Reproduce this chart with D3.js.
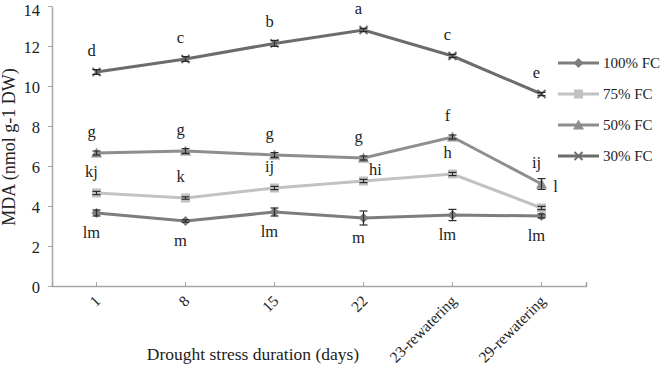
<!DOCTYPE html>
<html>
<head>
<meta charset="utf-8">
<script src="https://cdn.jsdelivr.net/npm/d3@7"></script>
<style>
  body { margin: 0; background: #fff; }
  text { font-family: "Liberation Serif", "Times New Roman", serif; fill: #222; }
</style>
</head>
<body>
<svg id="chart"></svg>
<script>
/* données */
const days = ['1', '8', '15', '22', '23-rewatering', '29-rewatering']
const seriesNames = ['100% FC', '75% FC', '50% FC', '30% FC']

const fc100 = [3.65, 3.25, 3.7, 3.4, 3.55, 3.5]
const fc75  = [4.65, 4.4, 4.9, 5.25, 5.6, 3.9]
const fc50  = [6.65, 6.75, 6.55, 6.4, 7.45, 5.1]
const fc30  = [10.7, 11.35, 12.13, 12.8, 11.5, 9.6]

const err100 = [0.15, 0.06, 0.2, 0.35, 0.28, 0.1]
const err75  = [0.08, 0.06, 0.08, 0.08, 0.08, 0.08]
const err50  = [0.1, 0.12, 0.12, 0.1, 0.1, 0.27]
const err30  = [0.12, 0.12, 0.15, 0.08, 0.08, 0.08]

const letters100 = ['lm', 'm', 'lm', 'm', 'lm', 'lm']
const letters75  = ['kj', 'k', 'ij', 'hi', 'h', 'l']
const letters50  = ['g', 'g', 'g', 'g', 'f', 'ij']
const letters30  = ['d', 'c', 'b', 'a', 'c', 'e']

const yTicks = [0, 2, 4, 6, 8, 10, 12, 14]

const width = 666, height = 372
const margin = {top: 6, right: 80, bottom: 86, left: 52}

const series = [
  {name: seriesNames[0], values: fc100, err: err100, letters: letters100, color: '#7d7d7d', marker: 'diamond', below: true},
  {name: seriesNames[1], values: fc75,  err: err75,  letters: letters75,  color: '#c2c2c2', marker: 'square'},
  {name: seriesNames[2], values: fc50,  err: err50,  letters: letters50,  color: '#8e8e8e', marker: 'triangle'},
  {name: seriesNames[3], values: fc30,  err: err30,  letters: letters30,  color: '#6c6c6c', marker: 'cross'}
]

const svg = d3.select('#chart').attr('width', width).attr('height', height)

const xScale = d3.scaleBand().domain(days).range([margin.left, 586])
const yScale = d3.scaleLinear().domain([0, 14]).range([286, 6])
const xc = d => xScale(d) + xScale.bandwidth() / 2

/* axes */
const yAxis = d3.axisLeft(yScale).tickValues(yTicks).tickSizeInner(4).tickSizeOuter(0).tickPadding(8)
const gy = svg.append('g').attr('transform', 'translate(' + margin.left + ',0)').call(yAxis)
gy.select('.domain').attr('stroke', '#a6a6a6').attr('stroke-width', 1.5)
gy.selectAll('.tick line').attr('stroke', '#a6a6a6')
gy.selectAll('.tick text').style('font-size', '16.5px').attr('fill', '#222')
  .attr('dy', d => d === 14 ? '0.55em' : '0.4em')   // le "14" touche le bord haut

const xAxis = d3.axisBottom(xScale).tickSizeInner(-4).tickSizeOuter(-4).tickFormat('')
const gx = svg.append('g').attr('transform', 'translate(0,286)').call(xAxis)
gx.select('.domain').attr('stroke', '#a6a6a6').attr('stroke-width', 1.5)
gx.selectAll('.tick line').attr('stroke', '#a6a6a6')

svg.append('g').selectAll('text')
  .data(days).enter().append('text')
  .attr('transform', d => 'translate(' + (xc(d) + 5) + ',302) rotate(-45)')
  .attr('text-anchor', 'end')
  .style('font-size', '15.5px')
  .text(d => d)

/* titres des axes */
svg.append('text')
  .attr('transform', 'rotate(-90)')
  .attr('x', -147).attr('y', 15)
  .attr('text-anchor', 'middle')
  .style('font-size', '18px')
  .text('MDA (nmol g-1 DW)')

svg.append('text')
  .attr('x', 253).attr('y', 360)
  .attr('text-anchor', 'middle')
  .style('font-size', '17.5px')
  .text('Drought stress duration (days)')

/* marqueurs */
const drawMarker = (g, type, color) => {
  if (type === 'diamond') {
    g.append('path').attr('d', 'M0,-5L5,0L0,5L-5,0Z').attr('fill', color)
  } else if (type === 'square') {
    g.append('rect').attr('x', -4.5).attr('y', -4.5).attr('width', 9).attr('height', 9).attr('fill', color)
  } else if (type === 'triangle') {
    g.append('path').attr('d', 'M0,-5.5L5.5,4.5L-5.5,4.5Z').attr('fill', color)
  } else {
    g.append('path').attr('d', 'M-4,-4L4,4M-4,4L4,-4').attr('stroke', color).attr('stroke-width', 1.8)
  }
}

const line = d3.line().x((v, i) => xc(days[i])).y(v => yScale(v))

series.forEach(s => {
  const g = svg.append('g')
  g.append('path').datum(s.values)
    .attr('d', line).attr('fill', 'none')
    .attr('stroke', s.color).attr('stroke-width', 3)

  s.values.forEach((v, i) => {
    const x = xc(days[i])
    const m = g.append('g').attr('transform', 'translate(' + x + ',' + yScale(v) + ')')
    drawMarker(m, s.marker, s.color)

    // barres d'erreur
    const y1 = yScale(v + s.err[i]), y2 = yScale(v - s.err[i])
    const eb = g.append('g').attr('stroke', '#2b2b2b').attr('stroke-width', 1.2)
    eb.append('line').attr('x1', x).attr('x2', x).attr('y1', y1).attr('y2', y2)
    eb.append('line').attr('x1', x - 4).attr('x2', x + 4).attr('y1', y1).attr('y2', y1)
    eb.append('line').attr('x1', x - 4).attr('x2', x + 4).attr('y1', y2).attr('y2', y2)
  })
})

/* lettres de significativité */
series.forEach(s => {
  s.letters.forEach((l, i) => {
    let x = xc(days[i]) - 5
    let y = yScale(s.values[i]) + (s.below ? 25 : -16)
    if (s.name === '75% FC' && l === 'hi') { x += 17; y += 10 }
    if (s.name === '75% FC' && l === 'l') { x += 19 }
    svg.append('text')
      .attr('x', x).attr('y', y)
      .attr('text-anchor', 'middle')
      .style('font-size', '16.5px')
      .text(l)
  })
})

/* légende */
const legend = svg.append('g')
series.forEach((s, i) => {
  const y = 63 + i * 31
  const lg = legend.append('g')
  lg.append('line').attr('x1', 558).attr('x2', 599).attr('y1', y).attr('y2', y)
    .attr('stroke', s.color).attr('stroke-width', 3)
  drawMarker(lg.append('g').attr('transform', 'translate(578.5,' + y + ')'), s.marker, s.color)
  lg.append('text').attr('x', 603).attr('y', y).attr('dy', '0.35em')
    .style('font-size', '15px').text(s.name)
})
</script>
</body>
</html>
